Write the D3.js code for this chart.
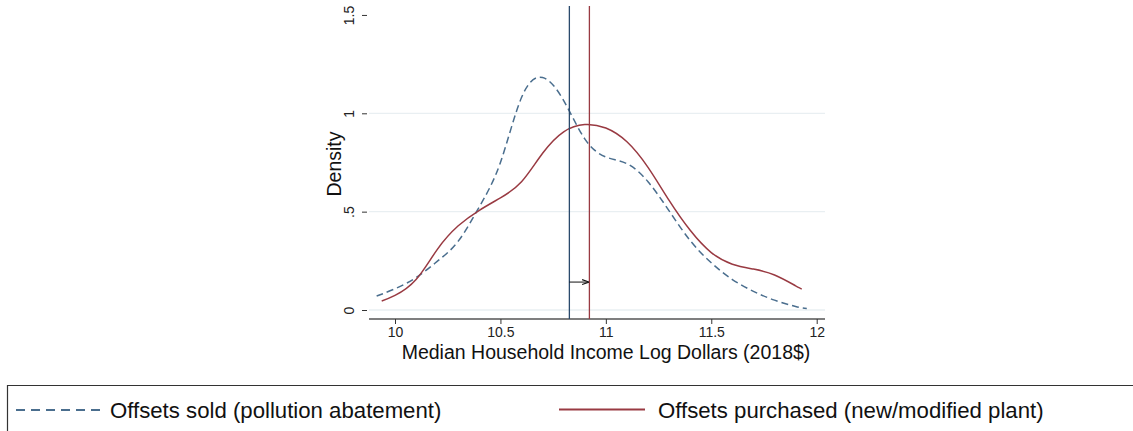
<!DOCTYPE html>
<html><head><meta charset="utf-8">
<script src="https://cdn.jsdelivr.net/npm/d3@7"></script>
<style>body{margin:0;background:#fff;}svg{display:block;font-family:"Liberation Sans",Arial,sans-serif;}</style>
</head><body>
<svg id="c" width="1133" height="431"></svg>
<script>
// Data
const soldX = [9.913,10.0,10.1,10.2,10.3,10.4,10.5,10.6,10.7,10.8,10.9,11.0,11.1,11.2,11.3,11.4,11.5,11.6,11.7,11.8,11.9,11.953];
const soldY = [0.071,0.108,0.165,0.247,0.35,0.525,0.75,1.08,1.182,1.065,0.87,0.778,0.744,0.652,0.504,0.353,0.24,0.155,0.095,0.05,0.018,0.008];
const boughtX = [9.937,10.0,10.1,10.2,10.3,10.4,10.5,10.6,10.7,10.8,10.9,11.0,11.1,11.2,11.3,11.4,11.5,11.6,11.7,11.8,11.9,11.929];
const boughtY = [0.046,0.074,0.155,0.307,0.428,0.507,0.57,0.652,0.797,0.906,0.943,0.925,0.855,0.725,0.557,0.405,0.292,0.233,0.208,0.178,0.123,0.107];
const meanSold = 10.827, meanBought = 10.922, arrowY = 0.142;
const xTicks = [10, 10.5, 11, 11.5, 12];
const xTickLabels = ["10", "10.5", "11", "11.5", "12"];
const yTicks = [0, 0.5, 1, 1.5];
const yTickLabels = ["0", ".5", "1", "1.5"];
const legendLabels = ["Offsets sold (pollution abatement)", "Offsets purchased (new/modified plant)"];

const blue = "#4a6e8e", navy = "#2a4a6c", red = "#993a42";
const svg = d3.select("#c");
const x = d3.scaleLinear().domain([10, 12]).range([395, 816.7]);
const y = d3.scaleLinear().domain([0, 1]).range([310, 113.3]);
const plotL = 369, plotR = 825, plotT = 6, plotB = 319;

// gridlines
svg.append("g").selectAll("line").data(yTicks.filter(d => d < 1.5)).join("line")
  .attr("x1", plotL).attr("x2", plotR).attr("y1", d => y(d)).attr("y2", d => y(d))
  .attr("stroke", "#e9eff2").attr("stroke-width", 1.3);

// y axis (ticks only, no line)
const yAxis = svg.append("g").attr("transform", `translate(367,0)`)
  .call(d3.axisLeft(y).tickValues(yTicks).tickFormat((d, i) => yTickLabels[i]).tickSize(5).tickPadding(8));
yAxis.select(".domain").remove();
yAxis.selectAll("line").attr("stroke", "#333");
yAxis.selectAll(".tick text").each(function(){
  d3.select(this).attr("x", null).attr("dy", null).attr("y", 0).attr("text-anchor", "middle")
   .attr("font-size", 14).attr("fill", "#222").attr("font-family", "Liberation Sans, Arial, sans-serif")
   .attr("transform", "translate(-13,0) rotate(-90)");
});

// x axis
const xAxis = svg.append("g").attr("transform", `translate(0,${plotB})`)
  .call(d3.axisBottom(x).tickValues(xTicks).tickFormat((d, i) => xTickLabels[i]).tickSize(5).tickPadding(3).tickSizeOuter(0));
xAxis.select(".domain").attr("d", `M${plotL},0H${plotR}`).attr("stroke", "#555").attr("stroke-width", 1.6);
xAxis.selectAll("line").attr("stroke", "#333");
xAxis.selectAll("text").attr("font-size", 14).attr("fill", "#222").attr("font-family", "Liberation Sans, Arial, sans-serif");

// titles
svg.append("text").attr("x", 606).attr("y", 359).attr("text-anchor", "middle").attr("font-size", 19.5).attr("fill", "#111")
  .text("Median Household Income Log Dollars (2018$)");
svg.append("text").attr("transform", "translate(341,164) rotate(-90)").attr("text-anchor", "middle").attr("font-size", 19.5).attr("fill", "#111")
  .text("Density");

// curves
const line = d3.line().x(d => x(d[0])).y(d => y(d[1])).curve(d3.curveNatural);
svg.append("path").datum(soldX.map((v, i) => [v, soldY[i]])).attr("d", line)
  .attr("fill", "none").attr("stroke", blue).attr("stroke-width", 1.5).attr("stroke-dasharray", "7,4");
svg.append("path").datum(boughtX.map((v, i) => [v, boughtY[i]])).attr("d", line)
  .attr("fill", "none").attr("stroke", red).attr("stroke-width", 1.5);

// mean lines
svg.append("line").attr("x1", x(meanSold)).attr("x2", x(meanSold)).attr("y1", plotT).attr("y2", plotB)
  .attr("stroke", navy).attr("stroke-width", 1.3);
svg.append("line").attr("x1", x(meanBought)).attr("x2", x(meanBought)).attr("y1", plotT).attr("y2", plotB)
  .attr("stroke", red).attr("stroke-width", 1.3);

// arrow
svg.append("defs").append("marker").attr("id", "ah").attr("viewBox", "0 0 10 10").attr("refX", 9).attr("refY", 5)
  .attr("markerWidth", 7).attr("markerHeight", 7).attr("orient", "auto")
  .append("path").attr("d", "M0,1.5L10,5L0,8.5").attr("fill", "none").attr("stroke", "#111").attr("stroke-width", 1.5);
svg.append("line").attr("x1", x(meanSold)).attr("x2", x(meanBought) - 1).attr("y1", y(arrowY)).attr("y2", y(arrowY))
  .attr("stroke", "#111").attr("stroke-width", 1).attr("marker-end", "url(#ah)");

// legend
svg.append("path").attr("d", "M7.5,431V385.5H1133").attr("fill", "none").attr("stroke", "#333").attr("stroke-width", 1.2);
svg.append("line").attr("x1", 16).attr("x2", 100).attr("y1", 410).attr("y2", 410)
  .attr("stroke", blue).attr("stroke-width", 1.8).attr("stroke-dasharray", "9,6");
svg.append("text").attr("x", 110).attr("y", 418).attr("font-size", 22.2).attr("fill", "#111").text(legendLabels[0]);
svg.append("line").attr("x1", 559).attr("x2", 645).attr("y1", 409.5).attr("y2", 409.5)
  .attr("stroke", red).attr("stroke-width", 1.8);
svg.append("text").attr("x", 658).attr("y", 418).attr("font-size", 22.2).attr("fill", "#111").text(legendLabels[1]);
</script>
</body></html>
